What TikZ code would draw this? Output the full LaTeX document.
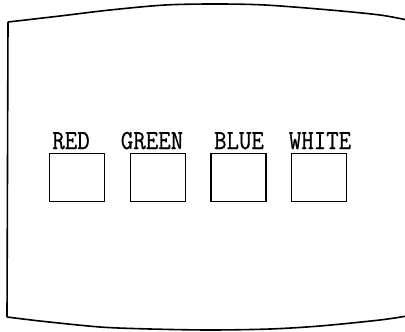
\documentclass[tikz,border=0pt]{standalone}
\usepackage{fontspec}
\newfontfamily\lblfont[FakeBold=0.8]{Latin Modern Mono}
\begin{document}
\begin{tikzpicture}[x=1pt,y=-1pt,
  frame/.style={line width=1.6pt,line join=round},
  swatch/.style={draw,line width=1.2pt,minimum width=55pt,minimum height=48pt,inner sep=0pt},
  lbl/.style={font=\lblfont\fontsize{27.5}{27.5}\selectfont,inner sep=0pt,anchor=base,xscale=0.88}]
\useasboundingbox (0,0) rectangle (405,332);
% frame
\draw[frame] plot[smooth,tension=0.5] coordinates {(8,22) (60,16) (110,10) (165,5) (215,4) (265,5) (330,10) (380,15) (407,20)};
\draw[frame] (8,22) -- (7,317);
\draw[frame] plot[smooth,tension=0.5] coordinates {(7,317) (40,321) (100,327) (150,329) (210,330) (270,329) (320,326) (380,320) (407,316)};
% swatches
\node[swatch] (red)   at (77,177.5) {};
\node[swatch] (green) at (158,177.5) {};
\node[swatch] (blue)  at (238.5,177.5) {};
\node[swatch] (white) at (319,177.5) {};
% labels
\node[lbl] (tred)   at (71,149) {RED};
\node[lbl] (tgreen) at (152,149) {GREEN};
\node[lbl] (tblue)  at (239,149) {BLUE};
\node[lbl] (twhite) at (320,149) {WHITE};
\end{tikzpicture}
\end{document}
